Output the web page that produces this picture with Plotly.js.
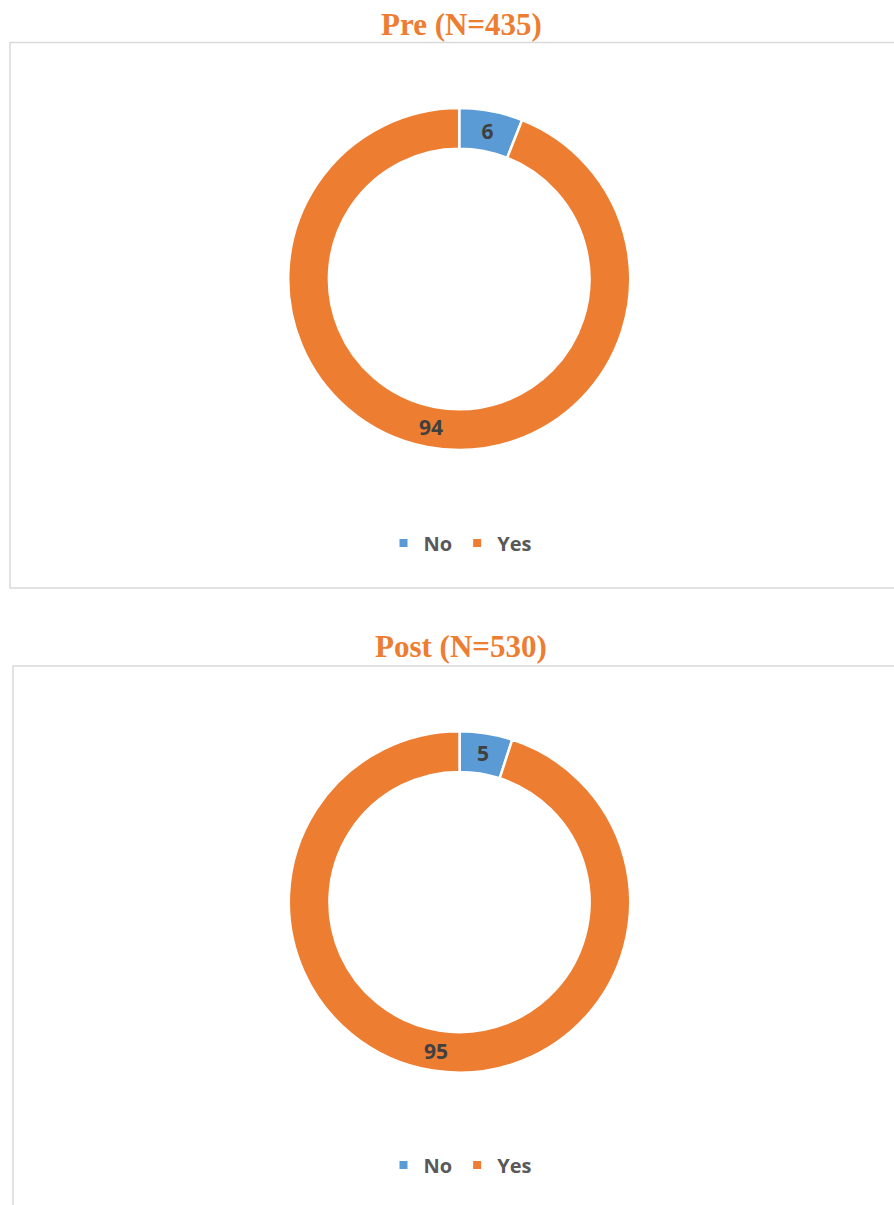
<!DOCTYPE html>
<html>
<head>
<meta charset="utf-8">
<script src="https://cdn.plot.ly/plotly-3.0.1.min.js"></script>
<style>
  html, body { margin: 0; padding: 0; background: #ffffff; }
  #chart { width: 894px; height: 1205px; }
</style>
</head>
<body>
<div id="chart"></div>
<script>
// ---- Data ----
const categories = ['No', 'Yes'];
const preValues = [6, 94];
const postValues = [5, 95];
const chartTitles = ['Pre (N=435)', 'Post (N=530)'];
const sliceColors = ['#5b9bd5', '#ed7d31'];

// ---- Layout helpers (pixel -> paper) ----
const W = 894, H = 1205;
const px = v => v / W;
const py = v => 1 - v / H;

function donut(values, cx, cy, r) {
  return {
    type: 'pie',
    labels: categories,
    values: values,
    sort: false,
    direction: 'clockwise',
    rotation: 0,
    hole: 0.762,
    textinfo: 'value',
    textposition: 'inside',
    insidetextorientation: 'horizontal',
    textfont: { family: 'Open Sans, sans-serif', size: 21, color: '#404040', weight: 'bold' },
    marker: { colors: sliceColors, line: { color: '#ffffff', width: 2.5 } },
    domain: { x: [px(cx - r), px(cx + r)], y: [py(cy + r), py(cy - r)] },
    showlegend: false,
    hoverinfo: 'label+value'
  };
}

// legend entries (one per category, per chart)
function legendEntries(legendId) {
  return categories.map((c, i) => ({
    type: 'scatter', mode: 'markers',
    x: [null], y: [null],
    name: c,
    marker: { symbol: 'square', size: 8, color: sliceColors[i] },
    legend: legendId,
    showlegend: true,
    hoverinfo: 'skip'
  }));
}

const data = [
  donut(preValues, 459.2, 279, 171),
  donut(postValues, 459.5, 902, 170.7),
  ...legendEntries('legend'),
  ...legendEntries('legend2')
];

const legendStyle = (yPx) => ({
  orientation: 'h',
  x: px(460), xanchor: 'center',
  y: py(yPx), yanchor: 'middle',
  font: { family: 'Open Sans, sans-serif', size: 20, color: '#595959', weight: 'bold' },
  bgcolor: 'rgba(0,0,0,0)',
  itemwidth: 30,
  traceorder: 'normal'
});

const layout = {
  width: W, height: H,
  margin: { l: 0, r: 0, t: 0, b: 0 },
  paper_bgcolor: '#ffffff',
  plot_bgcolor: 'rgba(0,0,0,0)',
  xaxis: { visible: false, fixedrange: true },
  yaxis: { visible: false, fixedrange: true },
  showlegend: true,
  legend: legendStyle(543),
  legend2: legendStyle(1165),
  shapes: [
    { type: 'rect', xref: 'paper', yref: 'paper',
      x0: px(10), x1: px(905), y0: py(588), y1: py(42.5),
      line: { color: '#d9d9d9', width: 1.5 }, fillcolor: 'rgba(0,0,0,0)' },
    { type: 'rect', xref: 'paper', yref: 'paper',
      x0: px(13), x1: px(905), y0: py(1215), y1: py(666),
      line: { color: '#d9d9d9', width: 1.5 }, fillcolor: 'rgba(0,0,0,0)' }
  ],
  annotations: [
    { text: chartTitles[0], xref: 'paper', yref: 'paper', x: px(461), y: py(24),
      xanchor: 'center', yanchor: 'middle', showarrow: false,
      font: { family: 'Liberation Serif, Times New Roman, serif', size: 31, color: '#ed7d31', weight: 'bold' } },
    { text: chartTitles[1], xref: 'paper', yref: 'paper', x: px(461), y: py(646),
      xanchor: 'center', yanchor: 'middle', showarrow: false,
      font: { family: 'Liberation Serif, Times New Roman, serif', size: 31, color: '#ed7d31', weight: 'bold' } }
  ]
};

Plotly.newPlot('chart', data, layout, { displayModeBar: false, staticPlot: true });
</script>
</body>
</html>
